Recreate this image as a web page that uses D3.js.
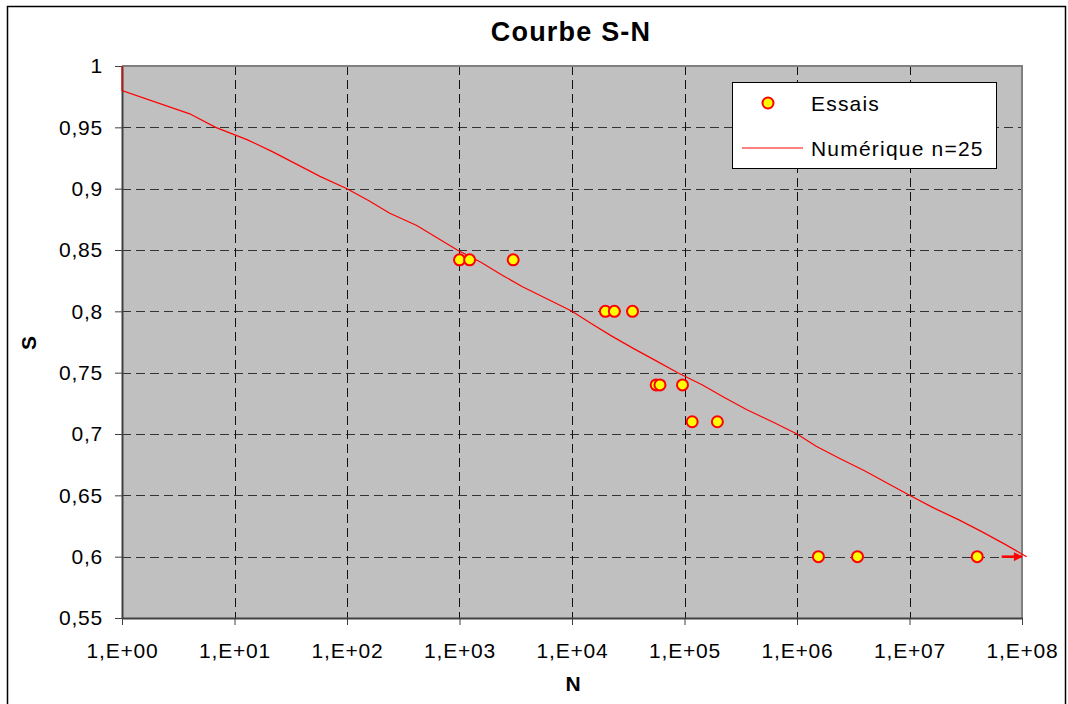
<!DOCTYPE html>
<html>
<head>
<meta charset="utf-8">
<script src="https://cdn.jsdelivr.net/npm/d3@7"></script>
<style>
  body { margin: 0; background: #fff; }
  text { font-family: "Liberation Sans", Arial, sans-serif; }
</style>
</head>
<body>
<div id="chart"></div>
<script>
// Essais (tests)
const essaisN = [1000, 1230, 3000, 19800, 23800, 34500, 56000, 60500, 96000, 117000, 196000, 1550000, 3450000, 40000000];
const essaisS = [0.842, 0.842, 0.842, 0.80, 0.80, 0.80, 0.74, 0.74, 0.74, 0.71, 0.71, 0.60, 0.60, 0.60];

// Numérique n=25 curve
const numN = [1, 1, 4, 6.8, 12.9, 21.9, 35.5, 57.5, 100, 158, 240, 417, 631, 955, 1550, 2340, 3630, 6030,
  10000, 14800, 22400, 34700, 55000, 87100, 144500, 224000, 355000, 603000, 1000000, 1480000, 2400000,
  3980000, 6310000, 10000000, 16200000, 27500000, 44700000, 70800000, 110000000];
const numS = [1.0, 0.98, 0.961, 0.95, 0.94, 0.93, 0.92, 0.91, 0.90, 0.89, 0.88, 0.87, 0.86, 0.85, 0.84, 0.83,
  0.82, 0.81, 0.80, 0.79, 0.78, 0.77, 0.76, 0.75, 0.74, 0.73, 0.72, 0.71, 0.70, 0.69, 0.68, 0.67, 0.66,
  0.65, 0.64, 0.63, 0.62, 0.61, 0.60];

// run-out arrow
const arrowN = [66000000, 100000000];
const arrowS = [0.60, 0.60];

const xTicks = [1, 1e1, 1e2, 1e3, 1e4, 1e5, 1e6, 1e7, 1e8];
const xTickLabels = ["1,E+00", "1,E+01", "1,E+02", "1,E+03", "1,E+04", "1,E+05", "1,E+06", "1,E+07", "1,E+08"];
const yTicks = [0.55, 0.6, 0.65, 0.7, 0.75, 0.8, 0.85, 0.9, 0.95, 1];
const yTickLabels = ["0,55", "0,6", "0,65", "0,7", "0,75", "0,8", "0,85", "0,9", "0,95", "1"];

const width = 1068;
const height = 704;
const margin = ({top: 66, right: 46, bottom: 86, left: 122});

const svg = d3.create('svg')
    .attr('width', width)
    .attr('height', height);

// outer frame
svg.append('rect')
    .attr('x', 7.5).attr('y', 6.5)
    .attr('width', 1058).attr('height', 720)
    .attr('fill', 'white')
    .attr('stroke', 'black')
    .attr('stroke-width', 1.5);

const xScale = d3.scaleLog()
    .domain([1, 1e8])
    .range([margin.left, width - margin.right]);

const yScale = d3.scaleLinear()
    .domain([0.55, 1])
    .range([height - margin.bottom, margin.top]);

const x0 = xScale.range()[0], x1 = xScale.range()[1];
const y0 = yScale.range()[0], y1 = yScale.range()[1];

// plot area
svg.append('rect')
    .attr('x', x0).attr('y', y1)
    .attr('width', x1 - x0).attr('height', y0 - y1)
    .attr('fill', '#c0c0c0');

// grid
svg.append('g')
    .selectAll('line')
    .data(yTicks.slice(1, -1))
    .join('line')
    .attr('x1', x0).attr('x2', x1)
    .attr('y1', d => Math.round(yScale(d)) + 0.5)
    .attr('y2', d => Math.round(yScale(d)) + 0.5)
    .attr('stroke', '#333')
    .attr('stroke-dasharray', '9,5');

svg.append('g')
    .selectAll('line')
    .data(xTicks.slice(1, -1))
    .join('line')
    .attr('x1', d => Math.round(xScale(d)) + 0.5)
    .attr('x2', d => Math.round(xScale(d)) + 0.5)
    .attr('y1', y1).attr('y2', y0)
    .attr('stroke', '#111')
    .attr('stroke-dasharray', '9,5');

// border top / right
svg.append('path')
    .attr('d', `M${x0},${y1}H${x1}V${y0}`)
    .attr('fill', 'none')
    .attr('stroke', '#808080')
    .attr('stroke-width', 2);

// axes
const xAxis = svg.append('g')
    .attr('transform', `translate(0, ${y0})`)
    .call(d3.axisBottom(xScale)
        .tickValues(xTicks)
        .tickFormat((d, i) => xTickLabels[i])
        .tickSize(7)
        .tickSizeOuter(0)
        .tickPadding(18));

const yAxis = svg.append('g')
    .attr('transform', `translate(${x0}, 0)`)
    .call(d3.axisLeft(yScale)
        .tickValues(yTicks)
        .tickFormat((d, i) => yTickLabels[i])
        .tickSize(7)
        .tickSizeOuter(0)
        .tickPadding(12));

[xAxis, yAxis].forEach(g => {
    g.select('.domain').attr('stroke', '#404040').attr('stroke-width', 2);
    g.selectAll('.tick line').attr('stroke', '#404040').attr('stroke-width', 1);
    g.selectAll('.tick text')
        .attr('font-family', '"Liberation Sans", Arial, sans-serif')
        .attr('font-size', 21)
        .attr('letter-spacing', '0.8px')
        .attr('fill', 'black');
});

// numerical curve
const line = d3.line()
    .x(d => xScale(d[0]))
    .y(d => yScale(d[1]));

svg.append('path')
    .datum(d3.zip(numN, numS))
    .attr('fill', 'none')
    .attr('stroke', '#ff0000')
    .attr('stroke-width', 1.2)
    .attr('d', line);

// arrow
svg.append('defs').append('marker')
    .attr('id', 'arrowhead')
    .attr('viewBox', '0 0 10 10')
    .attr('refX', 9).attr('refY', 5)
    .attr('markerWidth', 4).attr('markerHeight', 3.6)
    .attr('markerUnits', 'strokeWidth')
    .attr('orient', 'auto')
    .append('path')
    .attr('d', 'M0,0L10,5L0,10z')
    .attr('fill', '#ff0000');

svg.append('path')
    .datum(d3.zip(arrowN, arrowS))
    .attr('fill', 'none')
    .attr('stroke', '#ff0000')
    .attr('stroke-width', 2.5)
    .attr('marker-end', 'url(#arrowhead)')
    .attr('d', line);

// test points
svg.append('g')
    .selectAll('circle')
    .data(d3.zip(essaisN, essaisS))
    .join('circle')
    .attr('cx', d => xScale(d[0]))
    .attr('cy', d => yScale(d[1]))
    .attr('r', 5.5)
    .attr('fill', '#ffff00')
    .attr('stroke', '#ff0000')
    .attr('stroke-width', 2);

// legend
const legend = svg.append('g');
legend.append('rect')
    .attr('x', 732.5).attr('y', 82.5)
    .attr('width', 264).attr('height', 86)
    .attr('fill', 'white')
    .attr('stroke', 'black');
legend.append('circle')
    .attr('cx', 768).attr('cy', 103)
    .attr('r', 5.5)
    .attr('fill', '#ffff00')
    .attr('stroke', '#ff0000')
    .attr('stroke-width', 2);
legend.append('line')
    .attr('x1', 742).attr('x2', 803)
    .attr('y1', 148).attr('y2', 148)
    .attr('stroke', '#ff0000')
    .attr('stroke-width', 1);
legend.append('text')
    .attr('x', 811).attr('y', 111)
    .attr('font-size', 21)
    .attr('letter-spacing', '1.2px')
    .text('Essais');
legend.append('text')
    .attr('x', 811).attr('y', 156)
    .attr('font-size', 21)
    .attr('letter-spacing', '1.2px')
    .text('Numérique n=25');

// titles
svg.append('text')
    .attr('x', 571).attr('y', 41)
    .attr('text-anchor', 'middle')
    .attr('font-weight', 'bold')
    .attr('font-size', 27)
    .attr('letter-spacing', '1.2px')
    .text('Courbe S-N');

svg.append('text')
    .attr('x', 573).attr('y', 691)
    .attr('text-anchor', 'middle')
    .attr('font-weight', 'bold')
    .attr('font-size', 21)
    .text('N');

svg.append('text')
    .attr('transform', 'translate(36, 343) rotate(-90)')
    .attr('text-anchor', 'middle')
    .attr('font-weight', 'bold')
    .attr('font-size', 21)
    .text('S');

document.getElementById("chart").appendChild(svg.node());
</script>
</body>
</html>
